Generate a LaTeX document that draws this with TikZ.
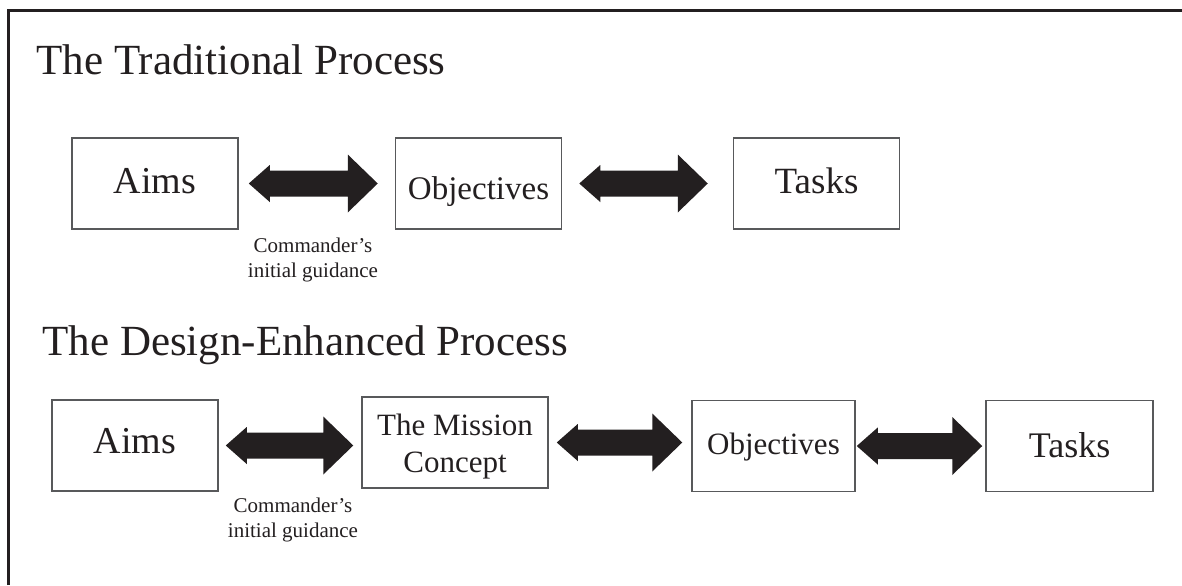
\documentclass[tikz,border=0pt]{standalone}
\usepackage{fontspec}
\setmainfont{Liberation Serif}
\usetikzlibrary{calc}
\definecolor{ink}{HTML}{231F20}
\definecolor{edge}{HTML}{58595B}
% double-headed block arrow between two named nodes: #3 / #4 = gaps at the ends
\newcommand\fatarrow[4]{%
  \fill[ink] let \p1=([xshift=#3]#1.east), \p2=([xshift=-#4]#2.west) in
    (\x1,\y1) -- (\x1+10.5pt,\y1+9.25pt) -- (\x1+10.5pt,\y1+6.5pt)
    -- (\x2-15pt,\y1+6.5pt) -- (\x2-15pt,\y1+14.5pt) -- (\x2,\y1)
    -- (\x2-15pt,\y1-14.5pt) -- (\x2-15pt,\y1-6.5pt)
    -- (\x1+10.5pt,\y1-6.5pt) -- (\x1+10.5pt,\y1-9.25pt) -- cycle;}
\begin{document}
\begin{tikzpicture}[x=0.5pt,y=-0.5pt,
  box/.style={draw=edge, line width=0.75pt, minimum width=83pt, minimum height=45.5pt,
    inner sep=0pt, text=ink, align=center},
  title/.style={anchor=base west, inner sep=0pt, text=ink,
    font=\fontsize{21.5pt}{25pt}\selectfont},
  note/.style={text=ink, align=center, inner sep=0pt,
    font=\fontsize{10.5pt}{12.5pt}\selectfont}]
\useasboundingbox (0,0) rectangle (1182,585);
\draw[ink, line width=1.5pt] (8.5,585) -- (8.5,10.5) -- (1182,10.5);

\node[title] (t1) at (36,74) {The Traditional Process};
\node[title] (t2) at (42,355) {The Design-Enhanced Process};

\node[box, text height=10pt, text depth=0pt, font=\fontsize{19pt}{22pt}\selectfont] (aims1) at (155,183.5) {Aims};
\node[box, text height=16pt, text depth=0pt, font=\fontsize{16.5pt}{20pt}\selectfont] (obj1) at (478.5,183.5) {Objectives};
\node[box, text height=10pt, text depth=0pt, font=\fontsize{18.5pt}{22pt}\selectfont] (tasks1) at (816.5,183.5) {Tasks};

\node[box, text height=7.5pt, text depth=0pt, font=\fontsize{19pt}{22pt}\selectfont] (aims2) at (135,445.5) {Aims};
\node[box, minimum width=93pt, text height=0pt, text depth=7.5pt, font=\fontsize{15.5pt}{18.5pt}\selectfont] (mission) at (455,442.5)
  {\begin{tabular}[t]{@{}c@{}}The Mission\\Concept\end{tabular}};
\node[box, minimum width=81.5pt, text height=8pt, text depth=0pt, font=\fontsize{15.5pt}{19pt}\selectfont] (obj2) at (773.5,446) {Objectives};
\node[box, minimum width=83.5pt, text height=11pt, text depth=0pt, font=\fontsize{18pt}{22pt}\selectfont] (tasks2) at (1069.5,446) {Tasks};

\node[note] (cg1) at (313,259.6) {Commander’s\\initial guidance};
\node[note] (cg2) at (293,519.6) {Commander’s\\initial guidance};

\fatarrow{aims1}{obj1}{5pt}{8.5pt}
\fatarrow{obj1}{tasks1}{8.5pt}{12.5pt}
\fatarrow{aims2}{mission}{3.5pt}{4pt}
\fatarrow{mission}{obj2}{4pt}{4.5pt}
\fatarrow{obj2}{tasks2}{0.5pt}{1.5pt}
\end{tikzpicture}
\end{document}
